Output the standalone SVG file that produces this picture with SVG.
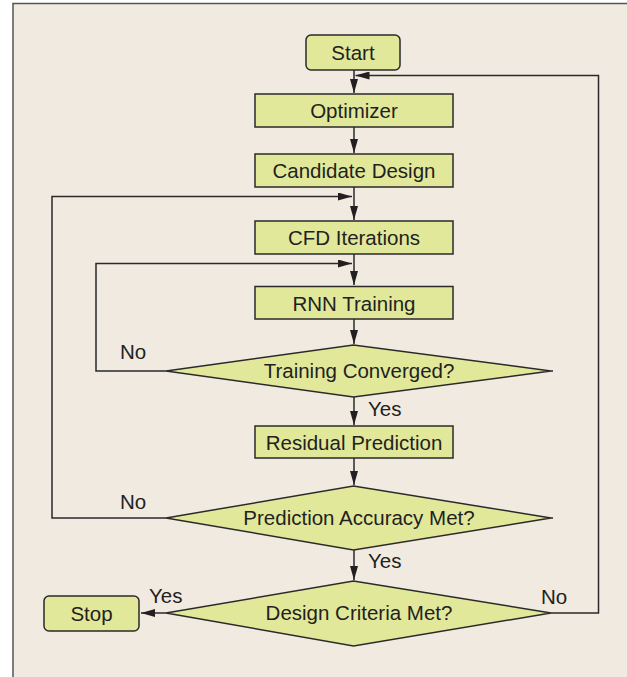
<svg xmlns="http://www.w3.org/2000/svg" width="627" height="677" viewBox="0 0 627 677">
<style>
.box{fill:#e1e89a;stroke:#2a2a2a;stroke-width:1.5}
.t{font-family:"Liberation Sans",Arial,sans-serif;font-size:20.5px;fill:#231f20;text-anchor:middle}
.l{font-family:"Liberation Sans",Arial,sans-serif;font-size:20.5px;fill:#231f20}
.c{fill:none;stroke:#2a2a2a;stroke-width:1.5}
</style>
<defs>
<marker id="arr" markerWidth="14" markerHeight="8" refX="14" refY="4" orient="auto" markerUnits="userSpaceOnUse">
<path d="M0,0 L14,4 L0,8 z" fill="#231f20"/>
</marker>
</defs>
<rect x="0" y="0" width="627" height="677" fill="#ffffff"/>
<rect x="13" y="3.5" width="640" height="700" fill="#f1eae1" stroke="#555" stroke-width="1.5"/>
<g id="connectors">
<path class="c" d="M354,70 V93" marker-end="url(#arr)"/>
<path class="c" d="M354,127 V153" marker-end="url(#arr)"/>
<path class="c" d="M354,187 V220" marker-end="url(#arr)"/>
<path class="c" d="M354,254 V285" marker-end="url(#arr)"/>
<path class="c" d="M354,319 V344" marker-end="url(#arr)"/>
<path class="c" d="M354,397 V425" marker-end="url(#arr)"/>
<path class="c" d="M354,458 V485" marker-end="url(#arr)"/>
<path class="c" d="M354,550 V580" marker-end="url(#arr)"/>
<path class="c" d="M166,371 H96 V263.5 H352" marker-end="url(#arr)"/>
<path class="c" d="M166,518 H52 V196.5 H352" marker-end="url(#arr)"/>
<path class="c" d="M166,613 H141" marker-end="url(#arr)"/>
<path class="c" d="M551,613 H598.5 V75.5 H355.5" marker-end="url(#arr)"/>
<path class="c" d="M551,371 H553"/>
<path class="c" d="M551,518 H553"/>
</g>
<g id="start">
<rect class="box" x="306" y="35" width="94" height="35" rx="5"/>
<text class="t" x="353" y="60">Start</text>
</g>
<g id="optimizer">
<rect class="box" x="255" y="94" width="198" height="33"/>
<text class="t" x="354" y="118">Optimizer</text>
</g>
<g id="candidate">
<rect class="box" x="255" y="154" width="198" height="33"/>
<text class="t" x="354" y="178">Candidate Design</text>
</g>
<g id="cfd">
<rect class="box" x="255" y="221" width="198" height="33"/>
<text class="t" x="354" y="245">CFD Iterations</text>
</g>
<g id="rnn">
<rect class="box" x="255" y="286.5" width="198" height="32.5"/>
<text class="t" x="354" y="310.5">RNN Training</text>
</g>
<g id="converged">
<polygon class="box" points="166,371 353.5,345 551,371 353.5,397"/>
<text class="t" x="359" y="378">Training Converged?</text>
</g>
<g id="residual">
<rect class="box" x="255" y="426" width="198" height="32"/>
<text class="t" x="354" y="449.5">Residual Prediction</text>
</g>
<g id="accuracy">
<polygon class="box" points="166,518 353.5,486 551,518 353.5,550"/>
<text class="t" x="359" y="525">Prediction Accuracy Met?</text>
</g>
<g id="criteria">
<polygon class="box" points="166,613 353.5,581 551,613 353.5,646"/>
<text class="t" x="359" y="620">Design Criteria Met?</text>
</g>
<g id="stop">
<rect class="box" x="44" y="596" width="95" height="35" rx="5"/>
<text class="t" x="91.5" y="621">Stop</text>
</g>
<g id="labels">
<text class="l" x="120" y="359">No</text>
<text class="l" x="368" y="415.5">Yes</text>
<text class="l" x="120" y="509">No</text>
<text class="l" x="368" y="568">Yes</text>
<text class="l" x="149" y="603">Yes</text>
<text class="l" x="541" y="604">No</text>
</g>
</svg>
